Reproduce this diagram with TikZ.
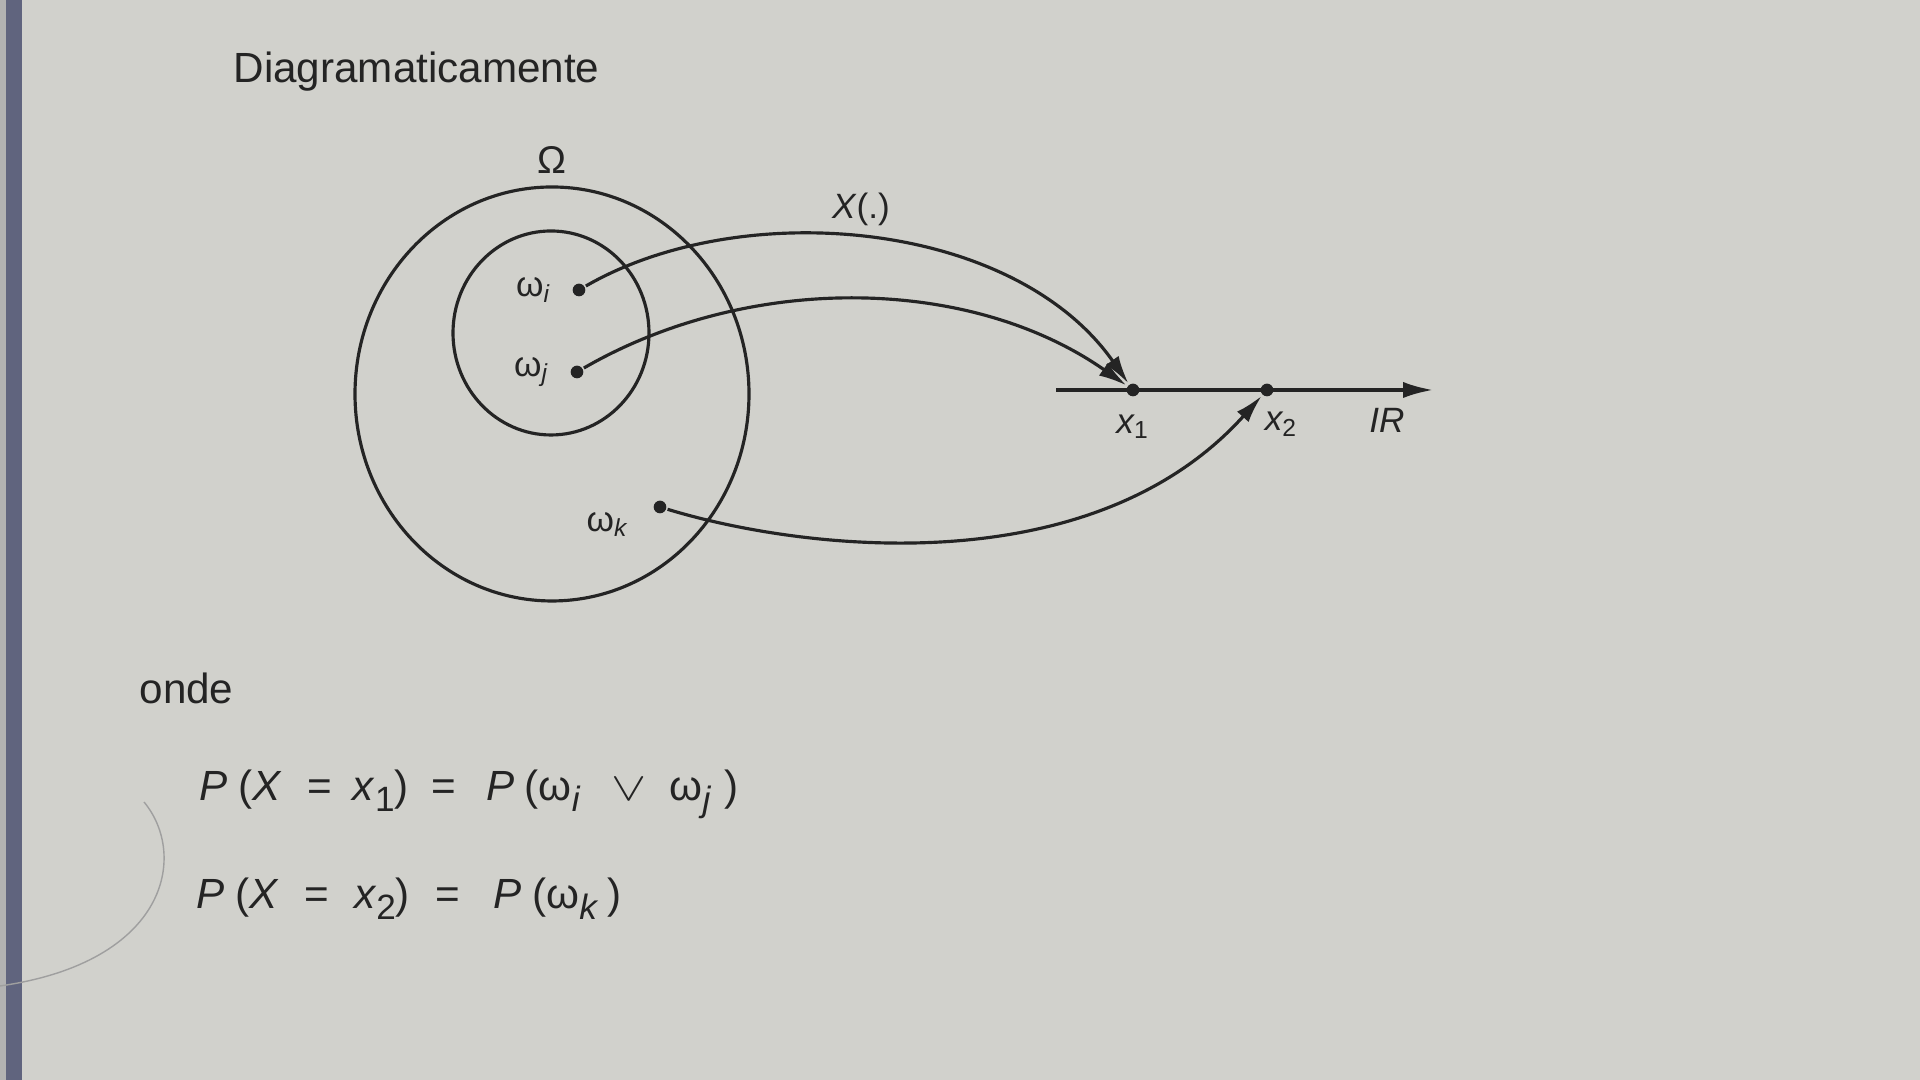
\documentclass[tikz,border=0pt]{standalone}
\usepackage{fontspec}
\setmainfont{Liberation Sans}
\usepackage{graphicx}
\usepackage{tikz}
\usetikzlibrary{arrows.meta,positioning}

\definecolor{paper}{RGB}{209,209,204}
\definecolor{ink}{RGB}{36,36,36}
\definecolor{spine}{RGB}{96,100,126}
\newcommand{\eqsub}[1]{\raisebox{-0.45ex}{\fontsize{10}{12}\selectfont #1}}
\newcommand{\sep}{\hspace{0.6em}}
\newcommand{\ou}{\scalebox{1.25}[0.95]{$\vee$}}

\begin{document}
\begin{tikzpicture}[x=0.01cm,y=0.01cm,line width=0.9pt,color=ink,
	dot/.style={circle,fill=ink,inner sep=0pt,minimum size=3.6pt},
	lbl/.style={font=\fontsize{10}{12}\selectfont},
	txt/.style={font=\fontsize{12}{14}\selectfont,anchor=base west,inner sep=0pt},
	map/.style={-{Latex[length=8pt,width=4.4pt]}},
	axis/.style={-{Latex[length=8.5pt,width=4.6pt]}}]
	\fill[paper] (0,0) rectangle (1920,1080);
	\fill[spine] (6,0) rectangle (22,1080);
	\fill[gray!60] (0,0) rectangle (6,1080);
	\useasboundingbox (0,0) rectangle (1920,1080);
	% pencil mark
	\draw[gray!75,line width=0.4pt] (144,278) .. controls (188,225) and (168,118) .. (0,94);
	\node[txt] (head) at (232,997) {Diagramaticamente};
	% sample space
	\draw (552,686) ellipse [x radius=197, y radius=207];
	\draw (551,747) ellipse [x radius=98, y radius=102];
	\coordinate (top) at (552,893);
	\node[lbl,font=\fontsize{11}{13}\selectfont] (Om) [above=0pt of top] {Ω};
	\node[dot] (wi) at (579,790) {};
	\node[dot] (wj) at (577,708) {};
	\node[dot] (wk) at (660,573) {};
	\node[lbl] (lwi) [left=2pt of wi] {ω\textsubscript{\itshape i}};
	\node[lbl] (lwj) [left=2pt of wj] {ω\textsubscript{\itshape j}};
	\node[lbl] (lwk) [left=3pt of wk,yshift=-5pt] {ω\textsubscript{\itshape k}};
	% real line
	\coordinate (a0) at (1056,690);
	\coordinate (a1) at (1433,690);
	\draw[axis] (a0) -- (a1);
	\node[dot] (x1) at (1133,690) {};
	\node[dot] (x2) at (1267,690) {};
	\node[lbl] (lx1) [below=1pt of x1] {\itshape x\textsubscript{\upshape 1}};
	\node[lbl] (lx2) [below right=1pt and -6pt of x2] {\itshape x\textsubscript{\upshape 2}};
	\node[lbl] (R) at (1387,660) {\itshape IR};
	\node[lbl] (X) at (861,871) {\textit{X}(.)};
	\path[map]
	(wi)	edge [out=30,in=125,out distance=1.8cm,in distance=2.0cm] (x1)
	(wj)	edge [out=30,in=145,looseness=0.9] (x1)
	(wk)	edge [out=-17,in=228,out distance=1.4cm,in distance=2.55cm] (x2)
	;
	% text below
	\node[txt] (onde) at (138,376) {onde};
	\node[txt] (eq1) at (198,279) {\textit{P}\hspace{3pt}(\textit{X}\sep=\hspace{0.5em}\textit{x}\eqsub{1})\hspace{0.55em}=\hspace{0.7em}\textit{P}\hspace{3pt}(ω\eqsub{\itshape i}\hspace{0.75em}\ou\hspace{0.55em}ω\eqsub{\itshape j}\hspace{4pt})};
	\node[txt] (eq2) at (195,171) {\textit{P}\hspace{3pt}(\textit{X}\sep=\sep\textit{x}\eqsub{2})\sep=\hspace{0.8em}\textit{P}\hspace{3pt}(ω\eqsub{\itshape k}\hspace{3pt})};
\end{tikzpicture}
\end{document}
